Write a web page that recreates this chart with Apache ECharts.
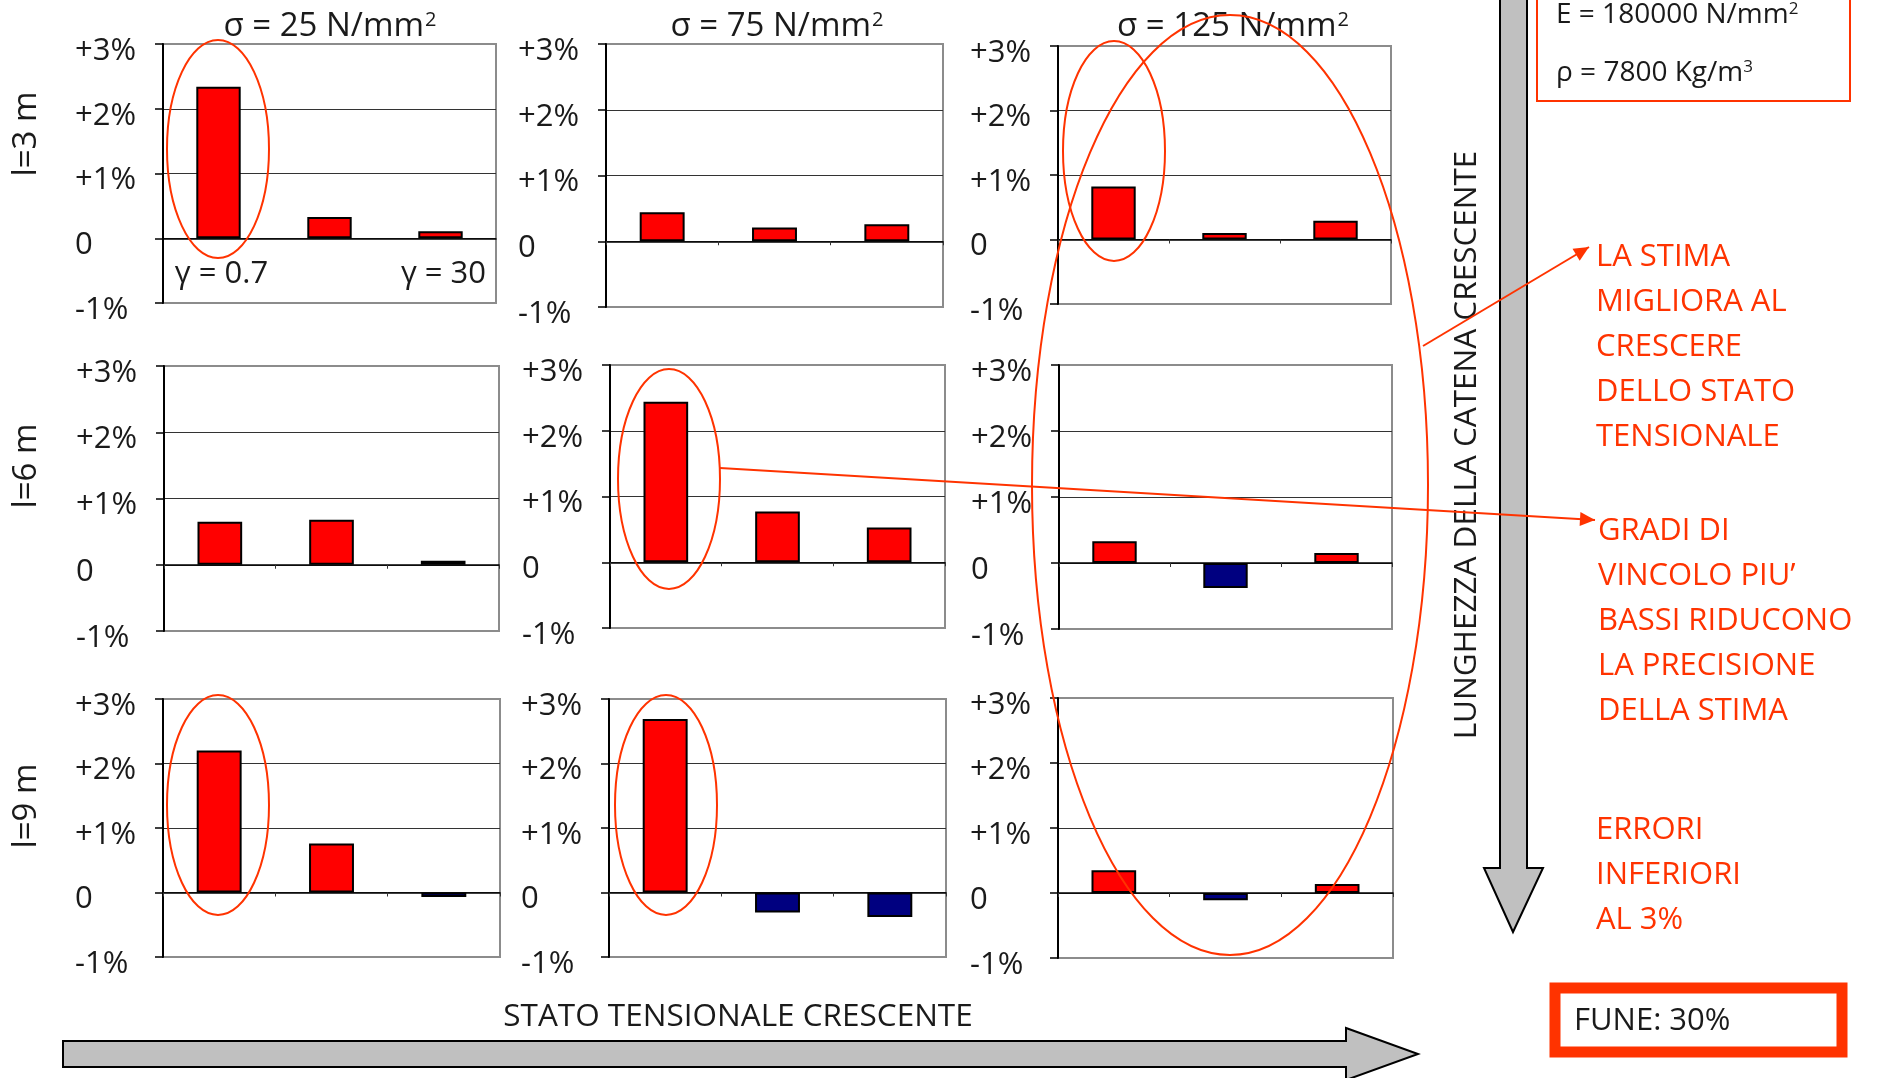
<!DOCTYPE html>
<html><head><meta charset="utf-8">
<script src="https://cdn.jsdelivr.net/npm/echarts@6/dist/echarts.min.js"></script>
<style>html,body{margin:0;padding:0;background:#fff}#c{width:1878px;height:1078px}</style>
</head><body><div id="c"></div>
<script>
// ---------- DATA ----------
const categories = ['γ = 0.7', '', 'γ = 30'];
const stressValues = ['25', '75', '125'];          // σ [N/mm²]
const lengthLabels = ['l=3 m', 'l=6 m', 'l=9 m'];
const yTickValues = [-1, 0, 1, 2, 3];
const yTickLabels = ['-1%', '0', '+1%', '+2%', '+3%'];
// errors (%) : rows = chain length, columns = stress state
const err_l3_s25  = [2.34, 0.33, 0.11];
const err_l3_s75  = [0.44, 0.21, 0.26];
const err_l3_s125 = [0.82, 0.10, 0.29];
const err_l6_s25  = [0.65, 0.68, 0.06];
const err_l6_s75  = [2.44, 0.77, 0.53];
const err_l6_s125 = [0.33, -0.38, 0.15];
const err_l9_s25  = [2.20, 0.76, -0.07];
const err_l9_s75  = [2.69, -0.31, -0.38];
const err_l9_s125 = [0.35, -0.11, 0.14];
const panels = [err_l3_s25, err_l3_s75, err_l3_s125,
                err_l6_s25, err_l6_s75, err_l6_s125,
                err_l9_s25, err_l9_s75, err_l9_s125];

// ---------- LAYOUT ----------
const gridBoxes = [
  [163, 44, 333, 259], [606, 44, 337, 263], [1058, 46, 333, 258],
  [164, 366, 335, 265], [610, 365, 335, 263], [1059, 365, 333, 264],
  [163, 699, 337, 258], [609, 699, 337, 258], [1058, 698, 335, 260]
];
const RED = '#ff3300';
const FONT = 'Open Sans';
const INK = '#1a1a1a';

const grids = [], xAxes = [], yAxes = [], series = [];
gridBoxes.forEach((b, i) => {
  grids.push({left: b[0], top: b[1], width: b[2], height: b[3], show: true,
    borderColor: '#8c8c8c', borderWidth: 2, backgroundColor: 'transparent', outerBoundsMode: 'none'});
  xAxes.push({gridIndex: i, type: 'category', data: categories,
    axisLine: {show: true, onZero: true, lineStyle: {color: '#000', width: 1.5}},
    axisTick: {show: i !== 0, length: 4, lineStyle: {color: '#333'}},
    axisLabel: {show: false},
    splitLine: {show: false}});
  yAxes.push({gridIndex: i, type: 'value', min: -1, max: 3, interval: 1,
    axisLine: {show: true, onZero: false, lineStyle: {color: '#000', width: 2}},
    axisTick: {show: true, length: 8, lineStyle: {color: '#000', width: 1.5}},
    axisLabel: {formatter: v => '{v|' + yTickLabels[yTickValues.indexOf(v)] + '}', align: 'left', margin: 88,
      fontSize: 31, fontFamily: FONT, color: INK,
      rich: {v: {fontSize: 31, fontFamily: FONT, color: INK, padding: [14, 0, 0, 0]}}},
    splitLine: {show: true, showMinLine: false, showMaxLine: false, lineStyle: {color: '#333', width: 1.2}}});
  series.push({type: 'bar', xAxisIndex: i, yAxisIndex: i, data: panels[i], barWidth: '40%',
    silent: true,
    itemStyle: {color: p => (p.value >= 0 ? '#ff0000' : '#000080'), borderColor: '#000', borderWidth: 2}});
});

// ---------- ANNOTATIONS ----------
function arrowHead(x1, y1, x2, y2, len, half) {
  const a = Math.atan2(y2 - y1, x2 - x1);
  const bx = x2 - len * Math.cos(a), by = y2 - len * Math.sin(a);
  return [[x2, y2], [bx + half * Math.sin(a), by - half * Math.cos(a)], [bx - half * Math.sin(a), by + half * Math.cos(a)]];
}
const graphic = [];
// big grey arrows
graphic.push({type: 'polygon', z: 50, shape: {points: [[63,1041],[1346,1041],[1346,1028],[1418,1054],[1346,1080],[1346,1067],[63,1067]]},
  style: {fill: '#c0c0c0', stroke: '#000', lineWidth: 2}});
graphic.push({type: 'polygon', z: 50, shape: {points: [[1500,-5],[1527,-5],[1527,868],[1543,868],[1513,932],[1484,868],[1500,868]]},
  style: {fill: '#c0c0c0', stroke: '#000', lineWidth: 2}});
// panel titles
const titleX = [330, 777, 1233];
stressValues.forEach((s, j) => graphic.push({type: 'text', z: 60, x: titleX[j], y: 27,
  style: {text: 'σ = ' + s + ' N/mm{s|2}', fontSize: 33, fontFamily: FONT, fill: INK, align: 'center', verticalAlign: 'middle',
    rich: {s: {fontSize: 20, fontFamily: FONT, fill: INK, verticalAlign: 'top', padding: [0, 0, 0, 1]}}}}));
// row labels
const rowY = [134, 466, 806];
lengthLabels.forEach((t, k) => graphic.push({type: 'text', z: 60, x: 27, y: rowY[k], rotation: Math.PI / 2,
  style: {text: t, fontSize: 33, fontFamily: FONT, fill: INK, align: 'center', verticalAlign: 'middle'}}));
// axis captions
graphic.push({type: 'text', z: 60, x: 738, y: 1017,
  style: {text: 'STATO TENSIONALE CRESCENTE', fontSize: 31.5, fontFamily: FONT, fill: INK, align: 'center', verticalAlign: 'middle'}});
graphic.push({type: 'text', z: 60, x: 1467, y: 445, rotation: Math.PI / 2,
  style: {text: 'LUNGHEZZA DELLA CATENA CRESCENTE', fontSize: 31.5, fontFamily: FONT, fill: INK, align: 'center', verticalAlign: 'middle'}});
// material box
graphic.push({type: 'rect', z: 60, shape: {x: 1537, y: -5, width: 313, height: 106}, style: {fill: 'none', stroke: RED, lineWidth: 2}});
graphic.push({type: 'text', z: 60, x: 1556, y: 15,
  style: {text: 'E = 180000 N/mm{s|2}', fontSize: 28, fontFamily: FONT, fill: INK, align: 'left', verticalAlign: 'middle',
    rich: {s: {fontSize: 17, fontFamily: FONT, fill: INK, verticalAlign: 'top'}}}});
graphic.push({type: 'text', z: 60, x: 1556, y: 73,
  style: {text: 'ρ = 7800 Kg/m{s|3}', fontSize: 28, fontFamily: FONT, fill: INK, align: 'left', verticalAlign: 'middle',
    rich: {s: {fontSize: 17, fontFamily: FONT, fill: INK, verticalAlign: 'top'}}}});
// red notes
const notes = [
  [1596, 235, 'LA STIMA\nMIGLIORA AL\nCRESCERE\nDELLO STATO\nTENSIONALE'],
  [1598, 509, 'GRADI DI\nVINCOLO PIU’\nBASSI RIDUCONO\nLA PRECISIONE\nDELLA STIMA'],
  [1596, 808, 'ERRORI\nINFERIORI\nAL 3%']
];
notes.forEach(n => graphic.push({type: 'text', z: 60, x: n[0], y: n[1],
  style: {text: n[2], fontSize: 31, lineHeight: 45, fontFamily: FONT, fill: RED, align: 'left', verticalAlign: 'top'}}));
// FUNE box
graphic.push({type: 'rect', z: 60, shape: {x: 1555, y: 988, width: 287, height: 64}, style: {fill: '#fff', stroke: RED, lineWidth: 11}});
graphic.push({type: 'text', z: 61, x: 1574, y: 1021,
  style: {text: 'FUNE: 30%', fontSize: 31, fontFamily: FONT, fill: INK, align: 'left', verticalAlign: 'middle'}});
// ellipses
const ellipses = [[218,149,51,109],[1114,151,51,110],[1230,485,198,470],[669,479,51,110],[218,805,51,110],[666,805,51,110]];
ellipses.forEach(e => graphic.push({type: 'ellipse', z: 70, shape: {cx: e[0], cy: e[1], rx: e[2], ry: e[3]},
  style: {fill: 'none', stroke: RED, lineWidth: 2}}));
// arrow lines
const arrows = [[1423, 346, 1589, 247], [720, 468, 1595, 520]];
arrows.forEach(a => {
  graphic.push({type: 'line', z: 70, shape: {x1: a[0], y1: a[1], x2: a[2], y2: a[3]}, style: {stroke: RED, lineWidth: 2}});
  graphic.push({type: 'polygon', z: 70, shape: {points: arrowHead(a[0], a[1], a[2], a[3], 15, 7)}, style: {fill: RED}});
});

const chart = echarts.init(document.getElementById('c'), null, {renderer: 'canvas'});
chart.setOption({animation: false, backgroundColor: '#fff', grid: grids, xAxis: xAxes, yAxis: yAxes, series: series, graphic: graphic});

// category labels of the first panel, placed through the panel's own scales
[0, 2].forEach(ci => {
  const p = chart.convertToPixel({gridIndex: 0}, [categories[ci], 0]);
  graphic.push({type: 'text', z: 60, x: p[0] + 3, y: p[1] + 36,
    style: {text: categories[ci], fontSize: 31, fontFamily: FONT, fill: INK, align: 'center', verticalAlign: 'middle'}});
});
chart.setOption({graphic: graphic});
</script></body></html>
